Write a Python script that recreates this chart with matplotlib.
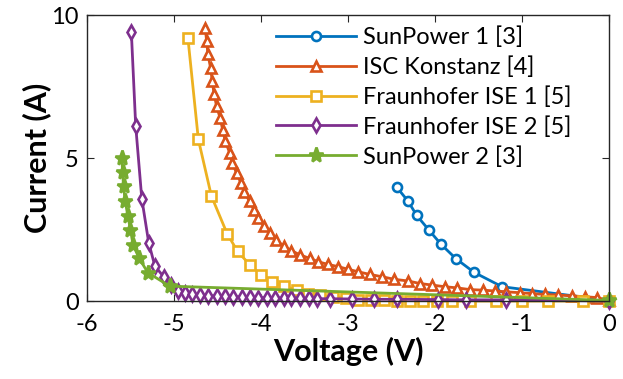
import matplotlib.pyplot as plt

plt.rcParams['font.family'] = ['Lato', 'DejaVu Sans']
plt.rcParams['axes.unicode_minus'] = False

# I-V curves (voltage in V, current in A)
sp1_v = [-2.44, -2.31, -2.21, -2.07, -1.93, -1.76, -1.55, -1.23, 0]
sp1_i = [3.98, 3.49, 2.99, 2.48, 1.98, 1.48, 1.00, 0.50, 0.02]

isc_v = [-4.64, -4.625, -4.61, -4.58, -4.56, -4.54, -4.51, -4.47, -4.44, -4.41,
         -4.36, -4.33, -4.28, -4.23, -4.19, -4.13, -4.08, -4.03, -3.97, -3.90,
         -3.83, -3.74, -3.65, -3.55, -3.44, -3.34, -3.23, -3.11, -3.00, -2.88,
         -2.75, -2.61, -2.47, -2.31, -2.17, -2.04, -1.89, -1.75, -1.60, -1.45,
         -1.31, -1.18, -1.02, -0.89, -0.74, -0.59, -0.43, -0.28, -0.14, 0]
isc_i = [9.53, 9.10, 8.63, 8.16, 7.69, 7.25, 6.81, 6.40, 5.99, 5.59,
         5.18, 4.83, 4.47, 4.12, 3.80, 3.48, 3.19, 2.90, 2.63, 2.37,
         2.14, 1.92, 1.76, 1.61, 1.49, 1.37, 1.28, 1.20, 1.11, 1.02,
         0.93, 0.85, 0.76, 0.70, 0.61, 0.56, 0.50, 0.46, 0.40, 0.38,
         0.35, 0.32, 0.29, 0.26, 0.23, 0.21, 0.18, 0.15, 0.12, 0.02]

ise1_v = [-4.84, -4.72, -4.57, -4.39, -4.27, -4.13, -4.00, -3.87, -3.73, -3.59,
          -3.46, -3.32, -3.17, -3.02, -2.88, -2.74, -2.59, -2.44, -2.29, -2.14,
          -1.98, -1.80, -1.60, -1.30, -1.00, -0.70, -0.30, 0]
ise1_i = [9.20, 5.65, 3.67, 2.36, 1.74, 1.27, 0.92, 0.65, 0.52, 0.38,
          0.26, 0.20, 0.14, 0.09, 0.05, 0.03, 0.02, 0.01, 0.01, 0.0,
          0.0, 0.0, 0.0, 0.0, 0.0, 0.0, 0.0, 0.0]

ise2_v = [-5.49, -5.44, -5.37, -5.29, -5.22, -5.12, -5.03, -4.95, -4.87, -4.79,
          -4.70, -4.61, -4.51, -4.41, -4.32, -4.22, -4.13, -4.03, -3.93, -3.84,
          -3.74, -3.65, -3.55, -3.45, -3.36, -3.21, -2.95, -2.70, -2.44, -1.97,
          -1.64, -1.18, 0]
ise2_i = [9.40, 6.13, 3.58, 2.03, 1.23, 0.85, 0.56, 0.35, 0.28, 0.24,
          0.21, 0.19, 0.17, 0.16, 0.15, 0.14, 0.13, 0.12, 0.11, 0.11,
          0.10, 0.10, 0.09, 0.09, 0.08, 0.08, 0.07, 0.06, 0.06, 0.05,
          0.04, 0.04, 0.0]

sp2_v = [-5.60, -5.59, -5.58, -5.56, -5.53, -5.50, -5.47, -5.40, -5.30, -5.05, 0]
sp2_i = [5.00, 4.50, 4.01, 3.48, 2.98, 2.49, 1.96, 1.49, 0.99, 0.52, 0.02]

labels = ['SunPower 1 [3]', 'ISC Konstanz [4]', 'Fraunhofer ISE 1 [5]',
          'Fraunhofer ISE 2 [5]', 'SunPower 2 [3]']

fig = plt.figure(figsize=(6.23, 3.79), dpi=100)
ax = fig.add_axes([0.1396, 0.2058, 0.838, 0.7546])

common = dict(linewidth=2.0, markeredgewidth=1.9, clip_on=False)
ax.plot(sp1_v, sp1_i, color='#0072BD', marker='o', markersize=6.5,
        markerfacecolor='white', label=labels[0], **common)
ax.plot(isc_v, isc_i, color='#D95319', marker='^', markersize=7.5,
        markerfacecolor='white', label=labels[1], **common)
ax.plot(ise1_v, ise1_i, color='#EDB120', marker='s', markersize=6.5,
        markerfacecolor='white', label=labels[2], **common)
ax.plot(ise2_v, ise2_i, color='#7E2F8E', marker='d', markersize=7.5,
        markerfacecolor='white', label=labels[3], **common)
ax.plot(sp2_v, sp2_i, color='#77AC30', marker='*', markersize=11,
        markerfacecolor='#77AC30', label=labels[4], **common)

ax.set_xlim(-6, 0)
ax.set_ylim(0, 10)
ax.set_xticks([-6, -5, -4, -3, -2, -1, 0])
ax.set_yticks([0, 5, 10])
ax.tick_params(direction='in', top=True, right=True, length=5,
               labelsize=17, color='#262626')
ax.tick_params(axis='x', pad=9)
ax.tick_params(axis='y', pad=6)
for s in ax.spines.values():
    s.set_color('#262626')
    s.set_linewidth(1.0)

ax.set_xlabel('Voltage (V)', fontsize=22, fontweight='bold', labelpad=2)
ax.set_ylabel('Current (A)', fontsize=22, fontweight='bold', labelpad=0)

ax.legend(loc='upper left', bbox_to_anchor=(0.362, 0.96), frameon=False,
          fontsize=17, handlelength=3.4, handletextpad=0.3,
          labelspacing=0.35, borderpad=0, borderaxespad=0)

fig.savefig('out.png', dpi=100)
